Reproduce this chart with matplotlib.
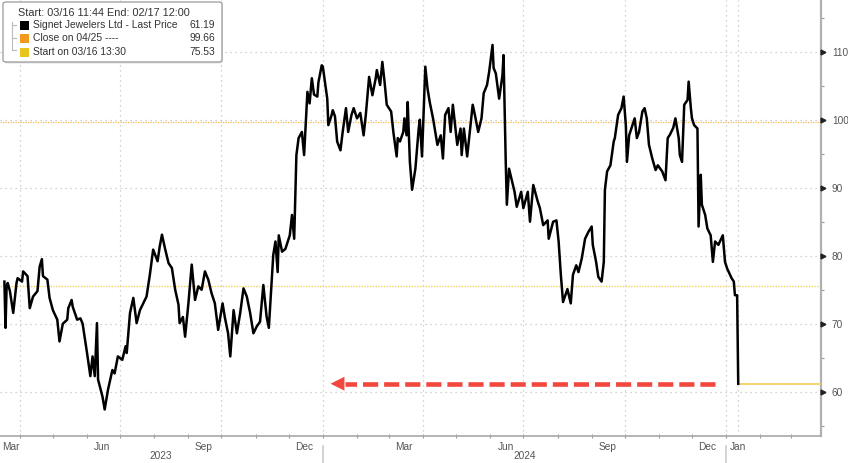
import matplotlib
matplotlib.use('Agg')
import matplotlib.pyplot as plt
import matplotlib.dates as mdates
import matplotlib.transforms as mtransforms
from matplotlib.patches import FancyBboxPatch, Rectangle
from matplotlib.lines import Line2D
import pandas as pd

plt.rcParams['font.family'] = ['Liberation Sans', 'DejaVu Sans']

# price series (days counted from start_date)
start_date = '2023-03-14'
days = [4, 5, 6, 7, 9, 12, 15, 16, 20, 21, 25, 27, 30, 34, 36, 38, 39, 43, 45, 48,
        52, 54, 57, 61, 62, 65, 66, 70, 73, 75, 79, 82, 84, 86, 88, 89, 93, 95, 98, 102,
        104, 107, 111, 114, 115, 118, 121, 124, 127, 130, 133, 136, 139, 143, 145, 147, 150, 153, 156, 159,
        162, 163, 166, 168, 171, 174, 177, 180, 183, 186, 189, 192, 195, 198, 202, 204, 207, 209, 212, 215,
        218, 221, 224, 227, 230, 233, 236, 239, 242, 244, 248, 250, 252, 253, 256, 259, 261, 263, 265, 267,
        269, 271, 274, 276, 278, 279, 281, 283, 285, 288, 289, 292, 293, 297, 298, 301, 302, 304, 306, 309,
        311, 314, 316, 319, 321, 324, 327, 330, 332, 335, 338, 341, 342, 345, 347, 349, 351, 355, 357, 360,
        361, 363, 366, 367, 369, 370, 372, 374, 377, 380, 381, 383, 386, 388, 390, 393, 397, 400, 402, 404,
        407, 409, 411, 415, 418, 419, 421, 424, 427, 429, 431, 434, 437, 439, 442, 444, 447, 448, 450, 453,
        456, 457, 459, 460, 462, 465, 467, 469, 473, 475, 479, 481, 484, 488, 490, 493, 497, 498, 502, 505,
        507, 509, 511, 515, 518, 520, 523, 525, 528, 531, 534, 537, 538, 541, 543, 546, 548, 549, 551, 554,
        557, 558, 561, 564, 566, 568, 569, 571, 574, 576, 578, 580, 583, 585, 587, 589, 592, 595, 597, 601,
        604, 606, 608, 611, 613, 616, 617, 619, 621, 624, 625, 627, 628, 630, 633, 634, 636, 637, 640, 642,
        645, 647, 649, 652, 656, 657, 658, 660, 664, 666, 667, 669, 670]
price = [76.2, 69.4, 75.5, 76.0, 74.8, 71.6, 76.0, 76.7, 76.2, 77.7, 77.0, 72.3, 74.0, 74.8, 78.4, 79.5, 77.0, 76.5, 73.8, 72.0,
         70.6, 67.4, 70.0, 70.6, 72.3, 73.5, 72.5, 70.6, 70.8, 70.0, 65.7, 62.3, 65.2, 62.3, 70.1, 61.8, 59.3, 57.4, 60.3, 63.2,
         62.7, 65.2, 64.7, 66.7, 65.7, 71.6, 73.8, 70.1, 72.0, 73.0, 74.0, 77.2, 80.9, 79.2, 81.4, 83.1, 80.9, 78.9, 78.2, 75.0,
         72.8, 70.1, 71.0, 68.1, 73.0, 78.7, 73.5, 75.5, 75.0, 77.7, 76.5, 74.5, 73.0, 69.1, 73.0, 71.0, 68.6, 65.2, 72.0, 68.6,
         71.6, 75.2, 74.0, 71.6, 68.6, 69.6, 70.3, 75.7, 71.0, 69.4, 80.1, 82.1, 77.6, 83.0, 80.6, 81.0, 82.0, 83.0, 86.0, 82.5,
         94.8, 97.3, 98.2, 94.8, 101.2, 104.1, 102.4, 106.1, 103.7, 103.4, 105.5, 108.0, 107.8, 103.1, 99.2, 100.7, 101.4, 100.5, 96.8, 95.5,
         98.2, 101.7, 98.2, 100.7, 101.7, 100.2, 101.0, 97.7, 100.7, 106.3, 103.6, 106.1, 107.3, 105.1, 108.5, 105.6, 102.2, 101.2, 98.2, 94.6,
         97.3, 96.8, 98.2, 100.2, 97.7, 102.6, 93.8, 89.7, 92.8, 98.7, 100.0, 94.6, 107.8, 104.6, 102.6, 100.2, 96.3, 97.7, 94.3, 100.7,
         101.7, 98.2, 102.2, 96.3, 98.7, 94.8, 98.7, 94.6, 99.2, 102.2, 100.7, 98.2, 100.2, 103.9, 105.1, 107.1, 111.0, 107.6, 106.8, 103.1,
         106.5, 109.5, 93.8, 87.5, 92.8, 90.8, 89.4, 87.2, 89.4, 87.0, 89.4, 85.0, 90.4, 88.0, 87.0, 84.5, 85.2, 82.5, 85.0, 85.2,
         82.1, 77.2, 73.2, 75.1, 73.0, 77.2, 78.6, 77.6, 79.6, 82.5, 83.5, 84.3, 81.6, 79.1, 76.9, 76.2, 79.1, 89.7, 92.4, 93.3,
         96.8, 97.3, 100.7, 101.7, 103.4, 99.2, 93.8, 97.7, 99.2, 100.2, 97.3, 98.2, 101.2, 101.7, 100.2, 96.3, 94.3, 92.6, 93.3, 92.4,
         91.1, 97.3, 97.8, 98.8, 100.2, 97.3, 94.8, 93.8, 102.2, 102.9, 105.6, 101.7, 100.2, 99.2, 98.7, 84.3, 91.9, 87.5, 86.0, 84.0,
         83.0, 79.1, 82.1, 81.6, 83.0, 81.0, 79.1, 78.1, 76.7, 76.2, 74.2, 74.2, 61.19]

last_price = 61.19
close_0425 = 99.66
start_0316 = 75.53
view_end = '2025-03-28'

# red arrow (tail -> head)
arrow_tail = '2024-12-22'
arrow_back = '2024-01-21'
arrow_tip = '2024-01-08'

grid_dates = ['2023-04-01', '2023-07-01', '2023-10-01', '2024-01-01', '2024-04-01',
              '2024-07-01', '2024-10-01', '2025-01-01', '2025-01-12']
month_ticks = ['2023-03-24', '2023-06-15', '2023-09-15', '2023-12-15', '2024-03-15',
               '2024-06-15', '2024-09-15', '2024-12-15', '2025-01-12']
month_labels = ['Mar', 'Jun', 'Sep', 'Dec', 'Mar', 'Jun', 'Sep', 'Dec', 'Jan']
year_pos = ['2023-08-07', '2024-07-02']
year_labels = ['2023', '2024']
year_breaks = ['2024-01-01', '2025-01-01']
y_ticks = [60, 70, 80, 90, 100, 110]
y_minor = [55, 65, 75, 85, 95, 105, 115]

dates = pd.Timestamp(start_date) + pd.to_timedelta(days, unit='D')

fig = plt.figure(figsize=(8.48, 4.63), dpi=100)
ax = fig.add_axes([0.0, 0.0583, 0.968, 0.9417])

grid_col = '#c4c4c4'
for g in grid_dates:
    ax.axvline(pd.Timestamp(g), color=grid_col, lw=0.9, ls=(0, (1, 3)), zorder=1)
for v in y_ticks:
    ax.axhline(v, color=grid_col, lw=0.9, ls=(0, (1, 3)), zorder=1)

ax.axhline(close_0425, color='#f7b955', lw=0.9, ls=(0, (1, 1)), zorder=2)
ax.axhline(start_0316, color='#f3d264', lw=1.0, ls=(0, (1, 1)), zorder=2)

ax.plot(dates, price, color='black', lw=1.8, zorder=4)
ax.plot([dates[-1], pd.Timestamp(view_end)], [last_price, last_price], color='#f3d264', lw=1.3, zorder=3)

# dashed red arrow
red = '#f2473d'
ax.plot([pd.Timestamp(arrow_tail), pd.Timestamp(arrow_back)], [last_price, last_price],
        color=red, lw=3.3, ls=(0, (3.3, 1.3)), dash_capstyle='butt', zorder=5)
ax.annotate('', xy=(pd.Timestamp(arrow_tip), last_price), xytext=(pd.Timestamp(arrow_back), last_price),
            arrowprops=dict(arrowstyle='-|>,head_length=1.0,head_width=0.5', color=red, lw=0,
                            mutation_scale=10, shrinkA=0, shrinkB=0), zorder=5)

ax.set_xlim(pd.Timestamp(start_date), pd.Timestamp(view_end))
ax.set_ylim(53.5, 117.6)

# x axis
ax.set_xticks([pd.Timestamp(m) for m in month_ticks])
ax.set_xticklabels(month_labels)
ax.xaxis.set_minor_locator(mdates.MonthLocator())
ax.tick_params(axis='x', which='major', length=0, pad=4, labelsize=7.3, labelcolor='#555555')
ax.tick_params(axis='x', which='minor', length=3, direction='inout', color='#999999', width=0.8)

trans = mtransforms.blended_transform_factory(ax.transData, ax.transAxes)
for pos, lab in zip(year_pos, year_labels):
    ax.text(pd.Timestamp(pos), -0.047, lab, transform=trans, ha='center', va='center',
            fontsize=7.3, color='#555555')
for b in year_breaks:
    ax.add_line(Line2D([pd.Timestamp(b)] * 2, [-0.022, -0.07], transform=trans,
                       color='#cccccc', lw=1.2, clip_on=False))

# y axis on the right
ax.yaxis.tick_right()
ax.set_yticks(y_ticks)
ax.set_yticks(y_minor, minor=True)
ax.tick_params(axis='y', which='major', length=0, pad=8, labelsize=7.3, labelcolor='#555555')
ax.tick_params(axis='y', which='minor', length=2.5, direction='out', color='#999999', width=0.8)
ytrans = mtransforms.blended_transform_factory(ax.transAxes, ax.transData)
ax.plot([1.003] * len(y_ticks), y_ticks, transform=ytrans, ls='', marker='>', ms=3.5,
        color='#222222', clip_on=False, zorder=6)

for s in ['left', 'top']:
    ax.spines[s].set_visible(False)
ax.spines['right'].set_color('#b0b0b0')
ax.spines['right'].set_linewidth(1.6)
ax.spines['bottom'].set_color('#a8a8a8')
ax.spines['bottom'].set_linewidth(1.2)


# legend box, laid out in pixels
def px(x, y):
    return (x / 848, 1 - y / 463)


box_x0, box_y0 = px(3, 62)
box_x1, box_y1 = px(222, 2)
fig.add_artist(FancyBboxPatch((box_x0 + 0.001, box_y0 - 0.003), box_x1 - box_x0, box_y1 - box_y0,
                              boxstyle='round,pad=0,rounding_size=0.004', transform=fig.transFigure,
                              facecolor='#dddddd', edgecolor='none', zorder=9))
fig.add_artist(FancyBboxPatch((box_x0, box_y0), box_x1 - box_x0, box_y1 - box_y0,
                              boxstyle='round,pad=0,rounding_size=0.004', transform=fig.transFigure,
                              facecolor='white', edgecolor='#9a9a9a', lw=0.9, zorder=10))

fig.text(*px(18, 13), 'Start: 03/16 11:44 End: 02/17 12:00', fontsize=7.8, color='#333333',
         va='center', ha='left', zorder=11)
rows = [('Signet Jewelers Ltd - Last Price', '61.19', 'black', 25),
        ('Close on 04/25 ----', '99.66', '#f39a1e', 38),
        ('Start on 03/16 13:30', '75.53', '#e9c41c', 52)]
for label, val, col, yy in rows:
    sx, sy = px(20, yy + 4.5)
    fig.add_artist(Rectangle((sx, sy), 9 / 848, 9 / 463, transform=fig.transFigure,
                             facecolor=col, edgecolor='none', zorder=11))
    fig.text(*px(33, yy), label, fontsize=7.4, color='#333333', va='center', ha='left', zorder=11)
    fig.text(*px(215, yy), val, fontsize=7.4, color='#333333', va='center', ha='right', zorder=11)
bx0, by0 = px(12, 22)
bx1, by1 = px(12, 50)
fig.add_artist(Line2D([bx0, bx1], [by0, by1], transform=fig.transFigure, color='#bbbbbb', lw=0.8, zorder=11))
for yy in [25, 38, 50]:
    lx0, ly = px(12, yy)
    lx1, _ = px(16, yy)
    fig.add_artist(Line2D([lx0, lx1], [ly, ly], transform=fig.transFigure, color='#bbbbbb', lw=0.8, zorder=11))

fig.savefig('out.png', dpi=100)
